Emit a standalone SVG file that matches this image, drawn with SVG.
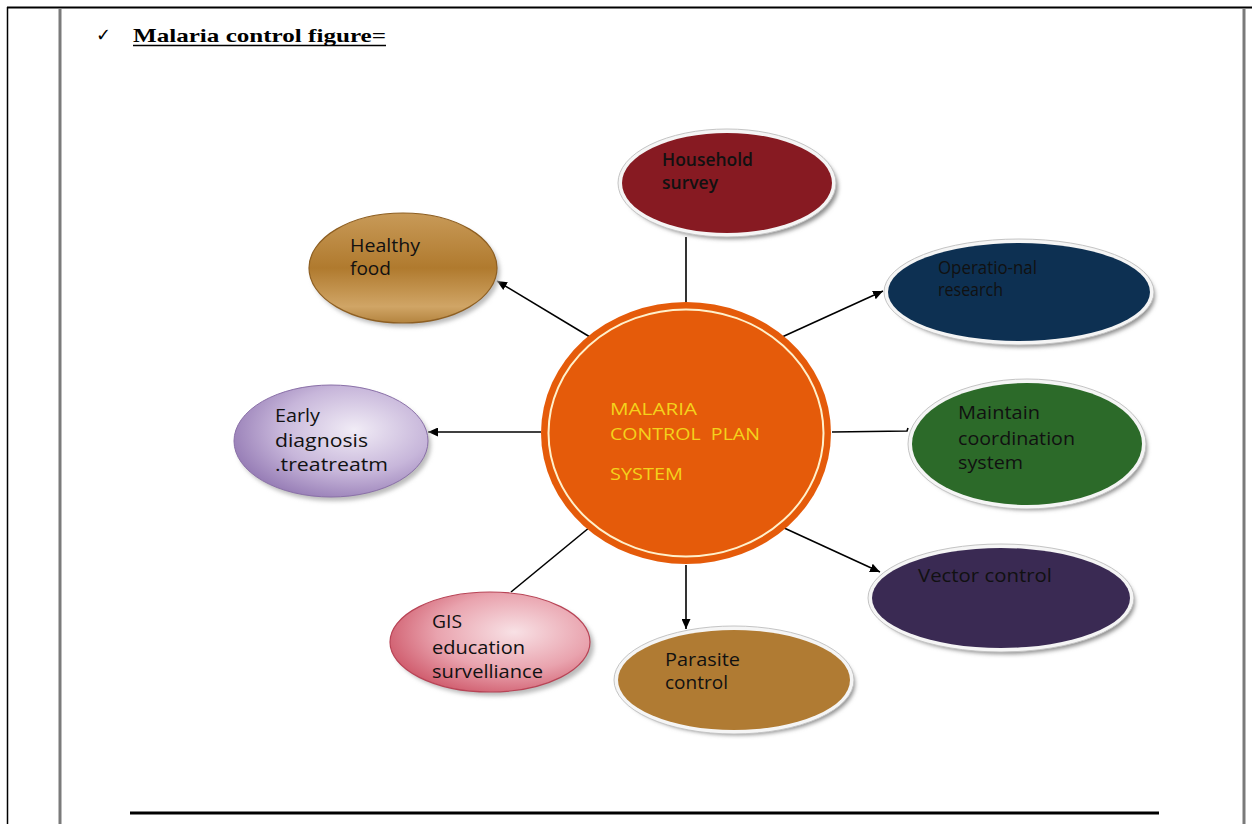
<svg xmlns="http://www.w3.org/2000/svg" width="1252" height="824" viewBox="0 0 1252 824">
  <style>
    .lbl { font-family: "Open Sans", "Liberation Sans", sans-serif; font-size: 18px; fill: #111; }
    .hub { font-family: "Open Sans", "Liberation Sans", sans-serif; font-size: 17px; fill: #F4D21C; }
    .edge { stroke: #000; stroke-width: 1.6; fill: none; }
    .frame { fill: #f5f5f5; stroke: #c4c4c4; stroke-width: 1; }
    .shadow { fill: #8c8c8c; filter: url(#soft); }
  </style>
  <defs>
    <marker id="arrow" markerUnits="userSpaceOnUse" markerWidth="11" markerHeight="9" refX="10" refY="4.5" orient="auto">
      <path d="M0,0 L10,4.5 L0,9 Z" fill="#000"/>
    </marker>
    <filter id="soft" x="-20%" y="-20%" width="140%" height="140%">
      <feGaussianBlur stdDeviation="2"/>
    </filter>
    <linearGradient id="gFood" x1="0" y1="0" x2="0" y2="1">
      <stop offset="0" stop-color="#C89A58"/>
      <stop offset="0.5" stop-color="#B07A2E"/>
      <stop offset="0.85" stop-color="#D0A566"/>
      <stop offset="1" stop-color="#B4843F"/>
    </linearGradient>
    <radialGradient id="gEarly" cx="0.62" cy="0.4" r="0.7">
      <stop offset="0" stop-color="#F1ECF6"/>
      <stop offset="0.55" stop-color="#C7B6DA"/>
      <stop offset="1" stop-color="#8F74B0"/>
    </radialGradient>
    <radialGradient id="gGis" cx="0.62" cy="0.4" r="0.7">
      <stop offset="0" stop-color="#F8E1E5"/>
      <stop offset="0.55" stop-color="#E9A3AE"/>
      <stop offset="1" stop-color="#CC5264"/>
    </radialGradient>
  </defs>

  <rect width="1252" height="824" fill="#fff"/>

  <!-- page frame -->
  <g id="page-frame">
    <line x1="7" y1="7.5" x2="1252" y2="7.5" stroke="#000" stroke-width="2"/>
    <line x1="7.5" y1="7" x2="7.5" y2="824" stroke="#000" stroke-width="1.5"/>
    <line x1="60" y1="9" x2="60" y2="824" stroke="#7a7a7a" stroke-width="3"/>
    <line x1="1244" y1="9" x2="1244" y2="824" stroke="#7a7a7a" stroke-width="3"/>
    <line x1="130" y1="813" x2="1159" y2="813" stroke="#000" stroke-width="3"/>
  </g>

  <!-- heading -->
  <g id="title">
    <text x="96" y="41" font-family="'DejaVu Sans', sans-serif" font-size="18" fill="#000">✓</text>
    <text x="133" y="42" font-family="'Liberation Serif', serif" font-weight="bold" font-size="19" textLength="253" lengthAdjust="spacingAndGlyphs" fill="#000">Malaria control figure=</text>
    <line x1="133" y1="45.5" x2="386" y2="45.5" stroke="#000" stroke-width="1.5"/>
  </g>

  <!-- connectors -->
  <g id="connectors">
    <line class="edge" x1="686" y1="302" x2="686" y2="237"/>
    <line class="edge" x1="590" y1="337" x2="497" y2="281" marker-end="url(#arrow)"/>
    <line class="edge" x1="782" y1="337" x2="883" y2="291" marker-end="url(#arrow)"/>
    <line class="edge" x1="541" y1="432" x2="428" y2="432" marker-end="url(#arrow)"/>
    <path class="edge" d="M832,432 L907,431 L908,428"/>
    <line class="edge" x1="782" y1="527" x2="880" y2="572" marker-end="url(#arrow)"/>
    <line class="edge" x1="686" y1="565" x2="686" y2="629" marker-end="url(#arrow)"/>
    <line class="edge" x1="590" y1="527" x2="511" y2="592"/>
  </g>

  <!-- hub -->
  <g id="hub">
    <ellipse cx="686" cy="433" rx="145" ry="131" fill="#E55B0A"/>
    <ellipse cx="686" cy="433" rx="137.5" ry="123.5" fill="none" stroke="#FFF1CC" stroke-width="2"/>
    <text class="hub" x="610" y="415" textLength="87" lengthAdjust="spacingAndGlyphs">MALARIA</text>
    <text class="hub" x="610" y="440" textLength="150" lengthAdjust="spacingAndGlyphs" xml:space="preserve">CONTROL  PLAN</text>
    <text class="hub" x="610" y="480" textLength="73" lengthAdjust="spacingAndGlyphs">SYSTEM</text>
  </g>

  <g id="household">
    <ellipse class="shadow" cx="731" cy="187" rx="107" ry="52"/>
    <ellipse class="frame" cx="727" cy="183" rx="109" ry="54"/>
    <ellipse cx="727" cy="183" rx="105" ry="50" fill="#871A22"/>
    <text class="lbl" x="662" y="166" font-size="16" font-weight="600" fill="#2A1010" textLength="91" lengthAdjust="spacingAndGlyphs">Household</text>
    <text class="lbl" x="662" y="189" font-size="16" font-weight="600" fill="#2A1010" textLength="56" lengthAdjust="spacingAndGlyphs">survey</text>
  </g>

  <g id="healthy-food">
    <ellipse cx="406" cy="272" rx="94" ry="55" fill="#bbb" filter="url(#soft)"/>
    <ellipse cx="403" cy="268" rx="94" ry="55" fill="url(#gFood)" stroke="#8E5F22" stroke-width="1.2"/>
    <text class="lbl" x="350" y="252" textLength="70" lengthAdjust="spacingAndGlyphs">Healthy</text>
    <text class="lbl" x="350" y="275" textLength="41" lengthAdjust="spacingAndGlyphs">food</text>
  </g>

  <g id="operational-research">
    <ellipse class="shadow" cx="1023" cy="296" rx="132" ry="51"/>
    <ellipse class="frame" cx="1019" cy="292" rx="135" ry="53"/>
    <ellipse cx="1019" cy="292" rx="131" ry="49" fill="#0D3052"/>
    <text class="lbl" x="938" y="274" font-size="13" fill="#0A0F18" textLength="99" lengthAdjust="spacingAndGlyphs">Operatio-nal</text>
    <text class="lbl" x="938" y="296" font-size="13" fill="#0A0F18" textLength="65" lengthAdjust="spacingAndGlyphs">research</text>
  </g>

  <g id="early-diagnosis">
    <ellipse cx="334" cy="445" rx="97" ry="56" fill="#bbb" filter="url(#soft)"/>
    <ellipse cx="331" cy="441" rx="97" ry="56" fill="url(#gEarly)" stroke="#8A70A8" stroke-width="1"/>
    <text class="lbl" x="275" y="422" textLength="45" lengthAdjust="spacingAndGlyphs">Early</text>
    <text class="lbl" x="275" y="447" textLength="93" lengthAdjust="spacingAndGlyphs">diagnosis</text>
    <text class="lbl" x="275" y="471" textLength="113" lengthAdjust="spacingAndGlyphs">.treatreatm</text>
  </g>

  <g id="maintain-coordination">
    <ellipse class="shadow" cx="1031" cy="448" rx="116" ry="62"/>
    <ellipse class="frame" cx="1027" cy="444" rx="119" ry="65"/>
    <ellipse cx="1027" cy="444" rx="115" ry="61" fill="#2C6A29"/>
    <text class="lbl" x="958" y="419" fill="#0C1A0B" textLength="82" lengthAdjust="spacingAndGlyphs">Maintain</text>
    <text class="lbl" x="958" y="445" fill="#0C1A0B" textLength="117" lengthAdjust="spacingAndGlyphs">coordination</text>
    <text class="lbl" x="958" y="469" fill="#0C1A0B" textLength="65" lengthAdjust="spacingAndGlyphs">system</text>
  </g>

  <g id="vector-control">
    <ellipse class="shadow" cx="1005" cy="602" rx="130" ry="52"/>
    <ellipse class="frame" cx="1001" cy="598" rx="133" ry="54"/>
    <ellipse cx="1001" cy="598" rx="129" ry="50" fill="#3A2A53"/>
    <text class="lbl" x="918" y="582" fill="#0E0A14" textLength="134" lengthAdjust="spacingAndGlyphs">Vector control</text>
  </g>

  <g id="parasite-control">
    <ellipse class="shadow" cx="738" cy="684" rx="117" ry="51"/>
    <ellipse class="frame" cx="734" cy="680" rx="120" ry="54"/>
    <ellipse cx="734" cy="680" rx="116" ry="50" fill="#B07B33"/>
    <text class="lbl" x="665" y="666" textLength="75" lengthAdjust="spacingAndGlyphs">Parasite</text>
    <text class="lbl" x="665" y="689" textLength="63" lengthAdjust="spacingAndGlyphs">control</text>
  </g>

  <g id="gis-education">
    <ellipse cx="494" cy="646" rx="100" ry="50" fill="#bbb" filter="url(#soft)"/>
    <ellipse cx="490" cy="642" rx="100" ry="50" fill="url(#gGis)" stroke="#B84456" stroke-width="1.2"/>
    <text class="lbl" x="432" y="628" textLength="30" lengthAdjust="spacingAndGlyphs">GIS</text>
    <text class="lbl" x="432" y="654" textLength="93" lengthAdjust="spacingAndGlyphs">education</text>
    <text class="lbl" x="432" y="678" textLength="111" lengthAdjust="spacingAndGlyphs">survelliance</text>
  </g>
</svg>
